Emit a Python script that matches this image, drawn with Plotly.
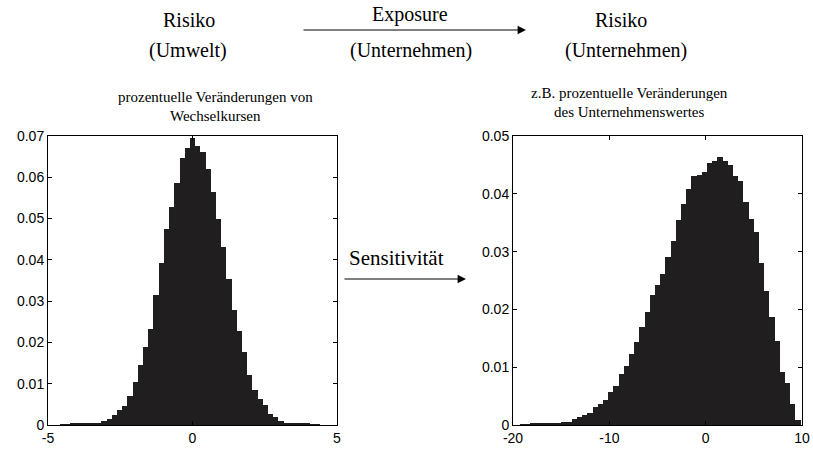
import plotly.graph_objects as go

# ---- data ----
left_x0 = -4.5      # centre of first bin
left_dx = 0.18      # bin width
left_y = [0.0002, 0.0002, 0.0003, 0.0003, 0.0003, 0.0004, 0.0004, 0.0006, 0.0009, 0.0014,
          0.0025, 0.0036, 0.0046, 0.0070, 0.0103, 0.0145, 0.0190, 0.0232, 0.0315, 0.0393,
          0.0474, 0.0527, 0.0585, 0.0646, 0.0672, 0.0694, 0.0676, 0.0662, 0.0619, 0.0565,
          0.0498, 0.0432, 0.0353, 0.0278, 0.0228, 0.0178, 0.0121, 0.0085, 0.0062, 0.0048,
          0.0027, 0.0019, 0.0010, 0.0006, 0.0005, 0.0004, 0.0003, 0.0003, 0.0002, 0.0002]

right_x0 = -19.03
right_dx = 0.54
right_y = [0.0001, 0.0001, 0.0002, 0.0002, 0.0002, 0.0003, 0.0003, 0.0004, 0.0005, 0.0006,
           0.0010, 0.0013, 0.0018, 0.0020, 0.0031, 0.0036, 0.0043, 0.0057, 0.0068, 0.0088,
           0.0102, 0.0122, 0.0143, 0.0170, 0.0195, 0.0225, 0.0242, 0.0262, 0.0290, 0.0318,
           0.0355, 0.0382, 0.0408, 0.0430, 0.0433, 0.0437, 0.0453, 0.0457, 0.0464, 0.0457,
           0.0450, 0.0430, 0.0423, 0.0386, 0.0356, 0.0334, 0.0280, 0.0232, 0.0187, 0.0146,
           0.0092, 0.0072, 0.0037, 0.0009]

left_xticks = [-5, 0, 5]
left_xticktext = ["-5", "0", "5"]
left_yticks = [0, 0.01, 0.02, 0.03, 0.04, 0.05, 0.06, 0.07]
left_yticktext = ["0", "0.01", "0.02", "0.03", "0.04", "0.05", "0.06", "0.07"]
right_xticks = [-20, -10, 0, 10]
right_xticktext = ["-20", "-10", "0", "10"]
right_yticks = [0, 0.01, 0.02, 0.03, 0.04, 0.05]
right_yticktext = ["0", "0.01", "0.02", "0.03", "0.04", "0.05"]

# ---- figure ----
W, H = 813, 450
BAR = "#201e1f"
SERIF = "Liberation Serif, DejaVu Serif, serif"
SANS = "Liberation Sans, Arial, sans-serif"

fig = go.Figure()
fig.add_trace(go.Bar(x0=left_x0, dx=left_dx, y=left_y, marker=dict(color=BAR, line=dict(width=0)),
                     xaxis="x", yaxis="y", showlegend=False))
fig.add_trace(go.Bar(x0=right_x0, dx=right_dx, y=right_y, marker=dict(color=BAR, line=dict(width=0)),
                     xaxis="x2", yaxis="y2", showlegend=False))

def px(x):
    return x / W

def py(y):
    return 1 - y / H

axis_common = dict(showline=True, linecolor="black", linewidth=1, mirror="ticks",
                   ticks="inside", ticklen=4, tickcolor="black", tickwidth=1,
                   showgrid=False, zeroline=False, automargin=False,
                   tickfont=dict(family=SANS, size=14, color="black"))

fig.update_layout(
    width=W, height=H, margin=dict(l=0, r=0, t=0, b=0, autoexpand=False),
    paper_bgcolor="white", plot_bgcolor="white", bargap=0,
    xaxis=dict(domain=[px(48), px(337)], range=[-5, 5], tickvals=left_xticks,
               ticktext=left_xticktext, anchor="y", **axis_common),
    yaxis=dict(domain=[py(425), py(136)], range=[0, 0.07], tickvals=left_yticks,
               ticktext=left_yticktext, anchor="x", **axis_common),
    xaxis2=dict(domain=[px(513), px(802)], range=[-20, 10], tickvals=right_xticks,
                ticktext=right_xticktext, anchor="y2", **axis_common),
    yaxis2=dict(domain=[py(425), py(136)], range=[0, 0.05], tickvals=right_yticks,
                ticktext=right_yticktext, anchor="x2", **axis_common),
)

def label(text, x, y, size, xanchor="center"):
    fig.add_annotation(text=text, x=px(x), y=py(y), xref="paper", yref="paper",
                       showarrow=False, xanchor=xanchor, yanchor="middle",
                       font=dict(family=SERIF, size=size, color="black"))

label("Risiko", 189, 20, 20)
label("(Umwelt)", 188, 50, 20)
label("Exposure", 410, 15, 20)
label("(Unternehmen)", 411, 50, 20)
label("Risiko", 621, 20, 20)
label("(Unternehmen)", 626, 50, 20)
label("prozentuelle Veränderungen von", 215, 97, 15)
label("Wechselkursen", 215, 116, 15)
label("z.B. prozentuelle Veränderungen", 629, 93, 15)
label("des Unternehmenswertes", 629, 112, 15)
label("Sensitivität", 396, 258, 21)

def arrow(x0, x1, y):
    fig.add_annotation(text="", x=px(x1), y=py(y), xref="paper", yref="paper",
                       ax=x0 - x1, ay=0, axref="pixel", ayref="pixel",
                       showarrow=True, arrowhead=2, arrowsize=1.4, arrowwidth=1.2,
                       arrowcolor="black")

arrow(302, 526, 30)
arrow(343, 466, 279)

fig.write_html("out.html", config={"displayModeBar": False},
               post_script="document.body.style.margin='0';document.body.style.overflow='hidden';")
